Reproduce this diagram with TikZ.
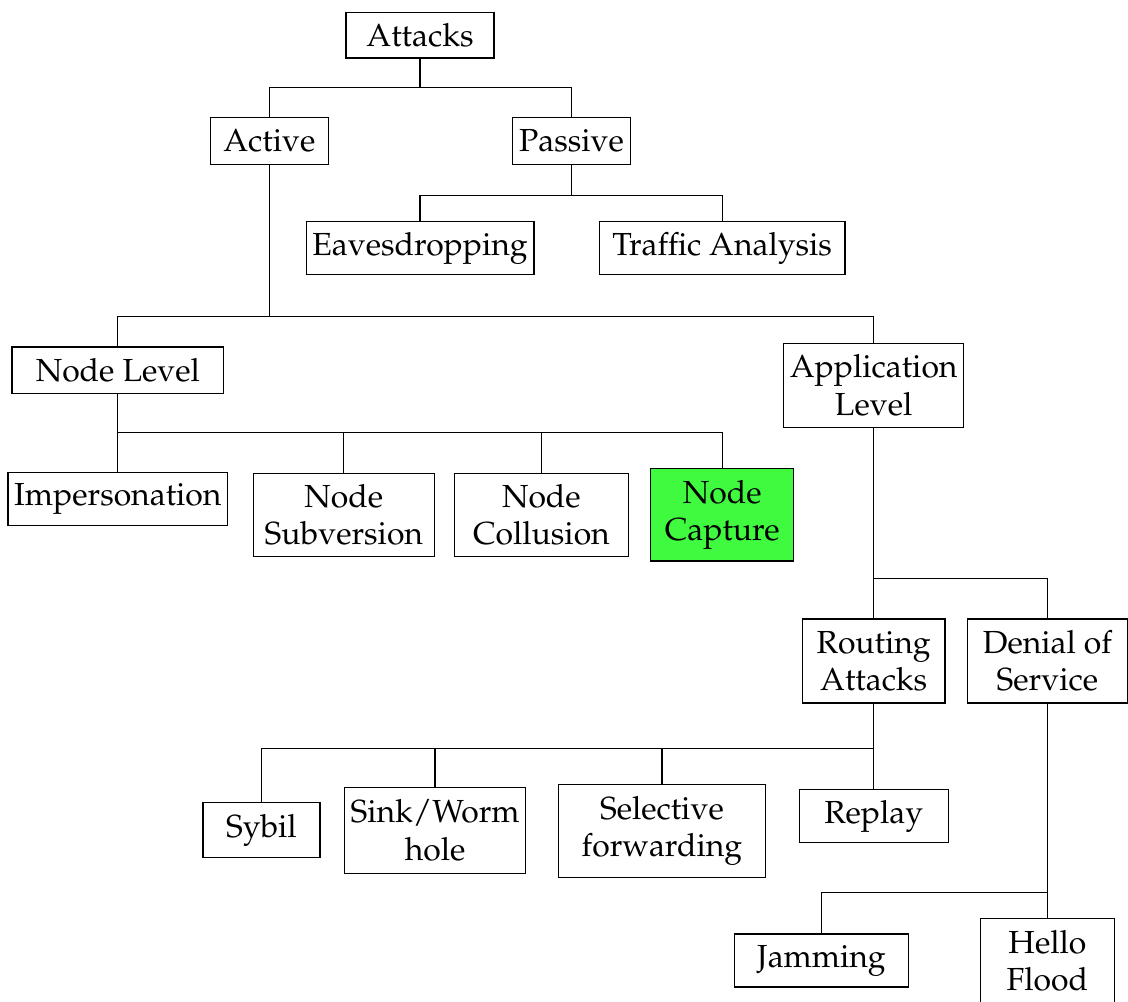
\documentclass[tikz,border=0pt]{standalone}
\usepackage[T1]{fontenc}
\usepackage{mathpazo}
\usetikzlibrary{positioning}

\definecolor{capturegreen}{RGB}{64,250,64}

\tikzset{
	box/.style={draw, align=center, inner sep=2pt, font=\fontsize{10.25}{12}\selectfont},
	link/.style={draw, line width=0.4pt},
}

\begin{document}
\begin{tikzpicture}

	% Frame
	\useasboundingbox (0,0) rectangle (12.73,-11.30);

	% -----------------------------
	% Top levels
	% -----------------------------
	\node[box, minimum width=1.67cm, minimum height=0.51cm] (attacks) at (4.74,-0.40) {Attacks};
	\node[box, minimum width=1.33cm, minimum height=0.53cm] (active) at (3.04,-1.59) {Active};
	\node[box, minimum width=1.33cm, minimum height=0.53cm] (passive) at (6.45,-1.59) {Passive};
	\node[box, minimum width=2.57cm, minimum height=0.60cm] (eaves) at (4.74,-2.80) {Eavesdropping};
	\node[box, minimum width=2.77cm, minimum height=0.60cm] (traffic) at (8.15,-2.80) {Traffic Analysis};

	% -----------------------------
	% Active branch
	% -----------------------------
	\node[box, minimum width=2.39cm, minimum height=0.53cm] (nodelevel) at (1.33,-4.18) {Node Level};
	\node[box, minimum width=2.03cm, minimum height=0.95cm] (applevel) at (9.86,-4.35) {Application\\Level};

	\node[box, minimum width=2.46cm, minimum height=0.60cm] (imperson) at (1.33,-5.63) {Impersonation};
	\node[box, minimum width=2.04cm, minimum height=0.94cm] (subversion) at (3.88,-5.81) {Node\\Subversion};
	\node[box, minimum width=1.96cm, minimum height=0.94cm] (collusion) at (6.11,-5.81) {Node\\Collusion};
	\node[box, fill=capturegreen, minimum width=1.61cm, minimum height=1.04cm] (capture) at (8.15,-5.81) {Node\\Capture};

	\node[box, minimum width=1.61cm, minimum height=0.95cm] (routing) at (9.86,-7.46) {Routing\\Attacks};
	\node[box, minimum width=1.80cm, minimum height=0.95cm] (dos) at (11.82,-7.46) {Denial of\\Service};

	% -----------------------------
	% Leaves
	% -----------------------------
	\node[box, minimum width=1.32cm, minimum height=0.62cm] (sybil) at (2.95,-9.37) {Sybil};
	\node[box, minimum width=2.04cm, minimum height=0.97cm] (sink) at (4.91,-9.37) {Sink/Worm\\hole};
	\node[box, minimum width=2.33cm, minimum height=1.05cm] (selective) at (7.47,-9.38) {Selective\\forwarding};
	\node[box, minimum width=1.68cm, minimum height=0.60cm] (replay) at (9.86,-9.21) {Replay};
	\node[box, minimum width=1.96cm, minimum height=0.60cm] (jamming) at (9.27,-10.84) {Jamming};
	\node[box, minimum width=1.51cm, minimum height=0.95cm] (hello) at (11.82,-10.84) {Hello\\Flood};

	% -----------------------------
	% Junctions
	% -----------------------------
	\coordinate (jattacks) at (4.74,-0.99);
	\coordinate (jpassive) at (6.45,-2.21);
	\coordinate (jactive) at (3.04,-3.57);
	\coordinate (jnode) at (1.33,-4.88);
	\coordinate (japp) at (9.86,-6.53);
	\coordinate (jrouting) at (9.86,-8.45);
	\coordinate (jdos) at (11.82,-10.07);

	% Connectors
	\draw[link] (attacks.south) -- (jattacks);
	\draw[link] (active.north) |- (jattacks) -| (passive.north);

	\draw[link] (passive.south) -- (jpassive);
	\draw[link] (eaves.north) |- (jpassive) -| (traffic.north);

	\draw[link] (active.south) -- (jactive);
	\draw[link] (nodelevel.north) |- (jactive) -| (applevel.north);

	\draw[link] (nodelevel.south) -- (jnode) -- (imperson.north);
	\draw[link] (jnode) -| (subversion.north);
	\draw[link] (jnode) -| (collusion.north);
	\draw[link] (jnode) -| (capture.north);

	\draw[link] (applevel.south) -- (japp) -- (routing.north);
	\draw[link] (japp) -| (dos.north);

	\draw[link] (routing.south) -- (jrouting) -- (replay.north);
	\draw[link] (jrouting) -| (sybil.north);
	\draw[link] (jrouting) -| (sink.north);
	\draw[link] (jrouting) -| (selective.north);

	\draw[link] (dos.south) -- (jdos) -- (hello.north);
	\draw[link] (jdos) -| (jamming.north);

\end{tikzpicture}
\end{document}
